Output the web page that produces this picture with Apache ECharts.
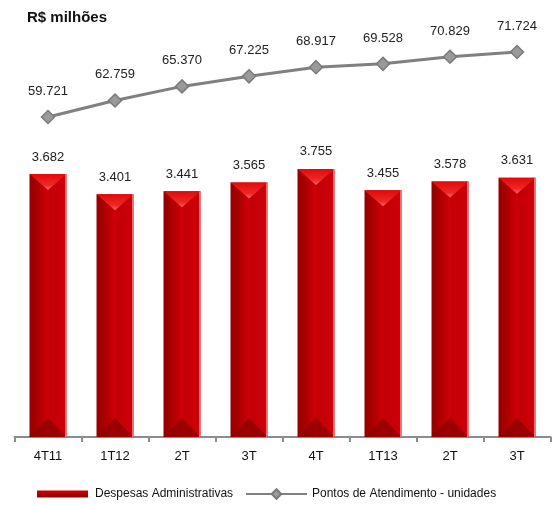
<!DOCTYPE html>
<html><head><meta charset="utf-8">
<script src="https://cdn.jsdelivr.net/npm/echarts@6/dist/echarts.min.js"></script>
<style>html,body{margin:0;padding:0;background:#fff}#c{width:554px;height:505px}</style>
</head><body><div id="c"></div>
<script>
const categories = ['4T11','1T12','2T','3T','4T','1T13','2T','3T'];
const despesas = [3.682, 3.401, 3.441, 3.565, 3.755, 3.455, 3.578, 3.631];
const pontos = [59.721, 62.759, 65.370, 67.225, 68.917, 69.528, 70.829, 71.724];
const barName = 'Despesas Administrativas';
const lineName = 'Pontos de Atendimento - unidades';
const fmt = v => v.toFixed(3);
const FONT = 'Liberation Sans, Arial, sans-serif';

const chart = echarts.init(document.getElementById('c'), null, {renderer:'canvas'});
const G = echarts.graphic;
chart.setOption({
  animation:false,
  backgroundColor:'#fff',
  textStyle:{fontFamily:FONT},
  title:{text:'R$ milhões', left:22, top:5, textStyle:{fontSize:15, fontWeight:'bold', color:'#111', fontFamily:FONT}},
  legend:[
    {left:32, top:483, itemWidth:51, itemHeight:7, icon:'rect', data:[barName],
     textStyle:{fontSize:12, color:'#111', fontFamily:FONT, padding:[0,0,0,2]}},
    {left:240, top:483, itemWidth:61, itemHeight:12, data:[lineName],
     textStyle:{fontSize:12, color:'#111', fontFamily:FONT}}
  ],
  grid:[
    {left:14.5, right:3.5, top:80, height:357},
    {left:14.5, right:3.5, top:34.2, height:135.5}
  ],
  xAxis:[
    {type:'category', gridIndex:0, data:categories,
     axisLine:{lineStyle:{color:'#8c8c8c', width:2}},
     axisTick:{show:true, length:5, lineStyle:{color:'#8c8c8c', width:2}},
     axisLabel:{color:'#111', fontSize:13, margin:13, fontFamily:FONT}},
    {type:'category', gridIndex:1, data:categories, show:false}
  ],
  yAxis:[
    {type:'value', gridIndex:0, min:0, max:5, show:false, splitLine:{show:false}},
    {type:'value', gridIndex:1, min:50, max:75, show:false, splitLine:{show:false}}
  ],
  series:[
    {
      name:barName, type:'custom', xAxisIndex:0, yAxisIndex:0,
      data: despesas.map((v,i)=>[i,v]),
      encode:{x:0, y:1},
      itemStyle:{color:new G.LinearGradient(0,0,0,1,[{offset:0,color:'#d80000'},{offset:1,color:'#8a0000'}])},
      renderItem:function(params, api){
        const top = api.coord([api.value(0), api.value(1)]);
        const bot = api.coord([api.value(0), 0]);
        const w = api.size([1,0])[0]*0.552;
        const x0 = top[0]-w/2, x1 = top[0]+w/2, yt = top[1], yb = bot[1];
        const h = yb-yt;
        const body = new G.LinearGradient(0,0,1,0,[
          {offset:0,color:'#930000'},{offset:0.2,color:'#a80000'},
          {offset:0.5,color:'#cf0008'},{offset:0.55,color:'#c20006'},
          {offset:0.9,color:'#cc0008'},{offset:1,color:'#d00010'}]);
        const tri = new G.LinearGradient(0,0,0,1,[
          {offset:0,color:'#e00a0a'},{offset:0.7,color:'#f02828'},{offset:1,color:'#ff6a6a'}]);
        return {type:'group', children:[
          {type:'rect', shape:{x:x0, y:yt, width:w, height:h}, style:{fill:body}},
          {type:'polygon', shape:{points:[[x0,yt],[x1,yt],[top[0],yt+16]]}, style:{fill:tri}},
          {type:'polygon', shape:{points:[[x0,yb],[x1,yb],[top[0],yb-19]]}, style:{fill:'#8c0000', opacity:0.75}},
          {type:'rect', shape:{x:x1-1.5, y:yt, width:1.5, height:h}, style:{fill:'#e87070'}},
          {type:'text', style:{x:top[0], y:yt-17, text:fmt(api.value(1)), align:'center', verticalAlign:'middle',
            fill:'#222', fontSize:13, fontFamily:FONT}}
        ]};
      }
    },
    {
      name:lineName, type:'line', xAxisIndex:1, yAxisIndex:1, data:pontos,
      symbol:'diamond', symbolSize:13, clip:false,
      lineStyle:{color:'#808080', width:3},
      itemStyle:{color:'#9a9a9a', borderColor:'#7a7a7a', borderWidth:1.5},
      label:{show:true, position:'top', distance:12, color:'#222', fontSize:13, fontFamily:FONT,
             formatter:p=>fmt(p.value)}
    }
  ]
});
</script></body></html>
